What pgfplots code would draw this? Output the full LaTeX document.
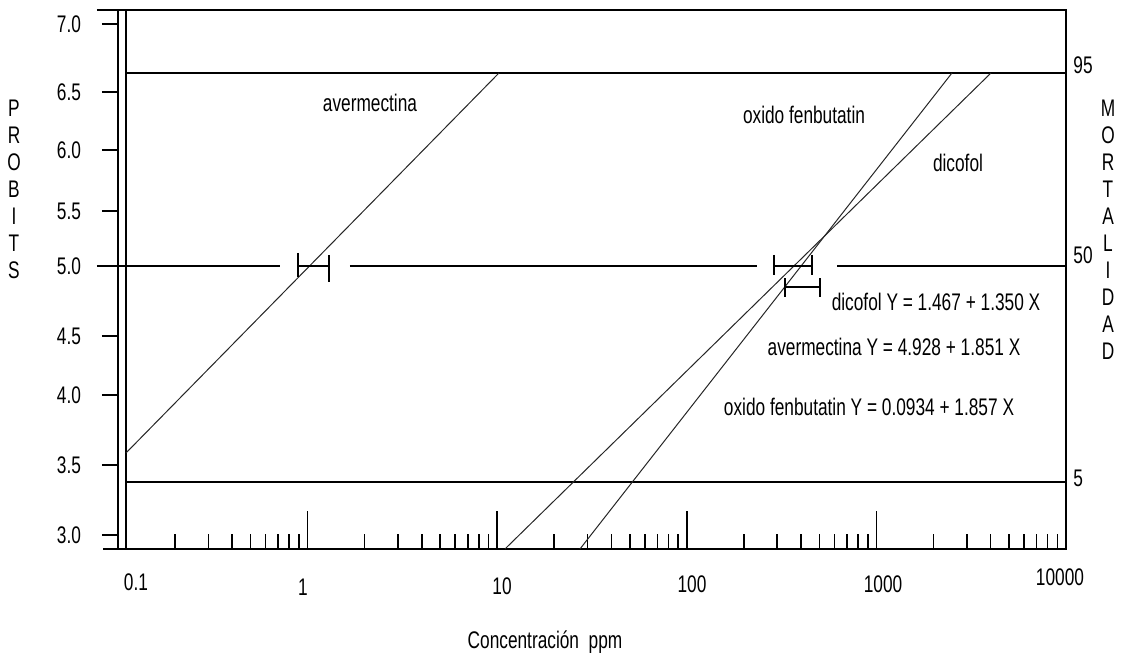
\documentclass[border=0pt]{standalone}
\usepackage{pgfplots}
\pgfplotsset{compat=1.18}
\usepackage{fontspec}
\setmainfont{Liberation Sans}[FakeStretch=0.72]
\begin{document}
\begin{tikzpicture}[font=\fontsize{12pt}{13.5pt}\selectfont]
\begin{axis}[
  scale only axis, width=474pt, height=269.5pt,
  at={(0,0)}, anchor=south west,
  xmode=log, xmin=0.1, xmax=10000, ymin=2.789, ymax=7.0,
  axis line style={line width=1pt},
  clip=false,
  xtick={1,10,100,1000}, xticklabels={},
  minor xtick={0.2,0.3,0.4,0.5,0.6,0.7,0.8,0.9,2,3,4,5,6,7,8,9,20,30,40,50,60,70,80,90,200,300,400,500,600,700,800,900,2000,3000,4000,5000,6000,7000,8000,9000},
  xtick pos=bottom, ytick pos=left,
  tick align=inside,
  xtick style={/pgfplots/major tick length=19pt, /pgfplots/minor tick length=7.5pt, line width=0.8pt, black},
  ytick={2.898,3.445,3.992,4.453,5.0,5.430,5.906,6.359,6.891},
  yticklabels={3.0,3.5,4.0,4.5,5.0,5.5,6.0,6.5,7.0},
  ytick style={/pgfplots/major tick length=8pt, xshift=-8pt, line width=0.8pt, black},
  yticklabel style={xshift=-15pt},
  /pgf/number format/assume math mode=true,
]
% frame pieces
\addplot[black, line width=1pt] coordinates {(0.1102,2.789) (0.1102,7.0)};
\addplot[black, line width=1pt] coordinates {(0.0775,7.0) (0.1,7.0)};
\addplot[black, line width=1pt] coordinates {(0.0834,2.789) (0.1,2.789)};
% reference lines 95 / 50 / 5 %
\addplot[black, line width=1pt] coordinates {(0.1102,6.508) (10000,6.508)};
\addplot[black, line width=1pt] coordinates {(0.1102,3.3125) (10000,3.3125)};
\addplot[black, line width=1pt] coordinates {(0.0775,5.0) (0.715,5.0)};
\addplot[black, line width=1pt] coordinates {(1.673,5.0) (234.6,5.0)};
\addplot[black, line width=1pt] coordinates {(619.8,5.0) (10000,5.0)};
% probit regression lines
\addplot[black!85, line width=0.5pt] coordinates {(0.1102,3.539) (10.22,6.508)};
\addplot[black!85, line width=0.5pt] coordinates {(10.99,2.789) (4022,6.508)};
\addplot[black!85, line width=0.5pt] coordinates {(27.33,2.789) (2504,6.508)};
% confidence intervals
\addplot[black, line width=0.8pt] coordinates {(0.890,5.0) (1.297,5.0)};
\addplot[black, line width=0.8pt] coordinates {(0.890,5.102) (0.890,4.914)};
\addplot[black, line width=0.8pt] coordinates {(1.297,5.086) (1.297,4.875)};
\addplot[black, line width=0.8pt] coordinates {(288.4,5.0) (457.5,5.0)};
\addplot[black, line width=0.8pt] coordinates {(288.4,5.086) (288.4,4.930)};
\addplot[black, line width=0.8pt] coordinates {(457.5,5.086) (457.5,4.930)};
\addplot[black, line width=0.8pt] coordinates {(329.6,4.836) (504.2,4.836)};
\addplot[black, line width=0.8pt] coordinates {(329.6,4.906) (329.6,4.758)};
\addplot[black, line width=0.8pt] coordinates {(504.2,4.906) (504.2,4.758)};
\end{axis}
% x tick labels
\node at (9pt,-16.5pt) {0.1};
\node at (92.5pt,-19pt) {1};
\node at (192pt,-18.5pt) {10};
\node at (287pt,-17.5pt) {100};
\node at (382.5pt,-17.5pt) {1000};
\node at (471pt,-14pt) {10000};
\node at (213.5pt,-46.5pt) {Concentración\ \ ppm};
% side titles
\node[align=center] at (-52pt,180pt) {P\\R\\O\\B\\I\\T\\S};
\node[align=center] at (495pt,159.75pt) {M\\O\\R\\T\\A\\L\\I\\D\\A\\D};
\node[anchor=west, inner sep=0pt] at (477.5pt,242pt) {95};
\node[anchor=west, inner sep=0pt] at (477.5pt,147pt) {50};
\node[anchor=west, inner sep=0pt] at (477.5pt,35.5pt) {5};
% annotations
\node at (126pt,223pt) {avermectina};
\node at (343pt,217pt) {oxido fenbutatin};
\node at (420pt,193pt) {dicofol};
\node at (409pt,123.5pt) {dicofol Y = 1.467 + 1.350 X};
\node at (388pt,101pt) {avermectina Y = 4.928 + 1.851 X};
\node at (375.5pt,71pt) {oxido fenbutatin Y = 0.0934 + 1.857 X};
\path (-59pt,-52.5pt) rectangle (505.5pt,274.5pt);
\end{tikzpicture}
\end{document}
